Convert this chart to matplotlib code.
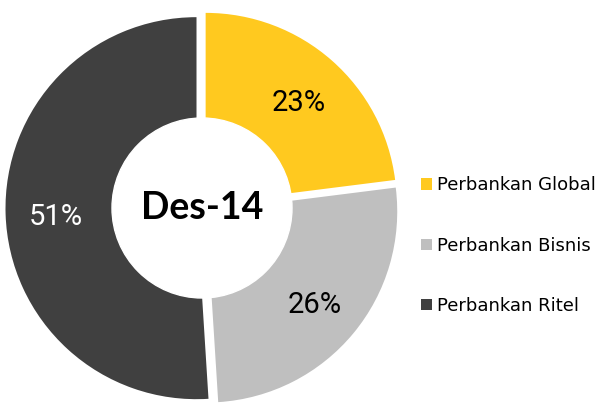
import matplotlib
matplotlib.use("Agg")
import matplotlib.pyplot as plt

# data
segments = ['Perbankan Global', 'Perbankan Bisnis', 'Perbankan Ritel']
shares = [23, 26, 51]
colors = ['#FFC91F', '#BFBFBF', '#404040']
pct_colors = ['black', 'black', 'white']
center_label = 'Des-14'

W, H = 605, 403
fig = plt.figure(figsize=(W / 100, H / 100), dpi=100)
ax = fig.add_axes([0, 0, 1, 1])

cx, cy = 202, H - 208
R = 191

wedges, texts, autotexts = ax.pie(
    shares, colors=colors, startangle=90, counterclock=False,
    center=(cx, cy), radius=R, explode=[5.5, 5.5, 5.5],
    autopct=lambda p: f'{p:.0f}%', pctdistance=0.735,
    textprops=dict(family=['Roboto', 'DejaVu Sans'], fontsize=21),
)
for t, c in zip(autotexts, pct_colors):
    t.set_color(c)
    x, y = t.get_position()
    t.set_position((x, y - 4))  # digits sit a little lower in the original

# hole
ax.add_patch(plt.Circle((cx, cy), 90, color='white', zorder=3))
ax.text(cx, cy, center_label, ha='center', va='center', fontsize=27,
        fontweight='bold', family='Lato', zorder=4)

ax.legend(wedges, segments, loc='upper left', bbox_to_anchor=(414 / W, 1 - 169 / H),
          frameon=False, fontsize=13, handlelength=0.6, handleheight=0.6,
          handletextpad=0.3, labelspacing=2.35, borderaxespad=0)

ax.set_xlim(0, W)
ax.set_ylim(0, H)
ax.set_aspect('equal')
ax.axis('off')

fig.savefig('out.png', dpi=100)
